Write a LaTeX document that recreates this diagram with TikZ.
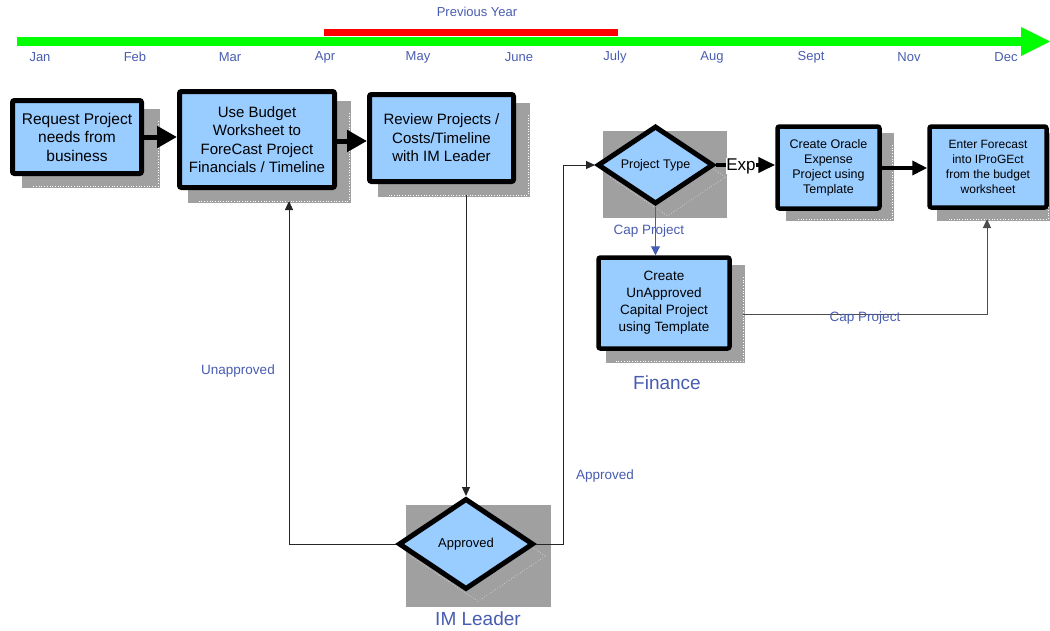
\documentclass[tikz,border=0pt]{standalone}
\usepackage{fontspec}
\setmainfont{Liberation Sans}
\usetikzlibrary{shapes.geometric,arrows.meta,calc}
\definecolor{boxblue}{RGB}{153,204,255}
\definecolor{shgray}{RGB}{160,160,160}
\definecolor{lblue}{RGB}{72,92,176}
\definecolor{tlgreen}{RGB}{0,255,0}
\definecolor{tlred}{RGB}{255,0,0}
\begin{document}
\begin{tikzpicture}[x=1pt,y=-1pt,
 shadowbox/.style={rectangle, fill=shgray, draw=shgray, line width=4pt, inner sep=0pt, outer sep=0pt},
 shdot/.style={draw=white, dotted, line width=0.7pt},
 procbox/.style={rectangle, fill=boxblue, draw=black, line width=5pt, rounded corners=2pt, inner sep=0pt, align=center},
 grayrect/.style={rectangle, fill=shgray, inner sep=0pt},
 decision/.style={diamond, fill=boxblue, draw=black, line width=5pt, inner sep=0pt},
 ghostdiamond/.style={diamond, draw=white!60!shgray, dotted, line width=0.7pt, inner sep=0pt},
 month/.style={font=\fontsize{13}{15}\selectfont, text=lblue},
 lbl/.style={font=\fontsize{13.5}{16}\selectfont, text=lblue},
 swimlbl/.style={font=\fontsize{19}{22}\selectfont, text=lblue},
 thickarrow/.style={line width=5pt, -{Triangle[length=20pt,width=21pt]}},
 thinarrow/.style={line width=1pt, draw=black!85, -{Triangle[length=9pt,width=8pt]}},
]
\useasboundingbox (0,0) rectangle (1050,630);

% timeline
\fill[tlgreen] (17,37) rectangle (1022,46);
\fill[tlgreen] (1021,27) -- (1050,41.5) -- (1021,56) -- cycle;
\fill[tlred] (324,29) rectangle (618,36);
\node[month] (prev) at (477,12) {Previous Year};
\node[month] (m1) at (40,57) {Jan};
\node[month] (m2) at (135,57) {Feb};
\node[month] (m3) at (230,57) {Mar};
\node[month] (m4) at (325,57) {Apr};
\node[month] (m5) at (418,57) {May};
\node[month] (m6) at (519,57) {June};
\node[month] (m7) at (615,57) {July};
\node[month] (m8) at (712,57) {Aug};
\node[month] (m9) at (811,57) {Sept};
\node[month] (m10) at (909,57) {Nov};
\node[month] (m11) at (1006,57) {Dec};

% shadows
\node[shadowbox, minimum width=134pt, minimum height=75pt] (s1) at (91,148.5) {};
\node[shadowbox, minimum width=159pt, minimum height=98pt] (s2) at (269.5,152) {};
\node[shadowbox, minimum width=148pt, minimum height=90pt] (s3) at (454,150) {};
\node[shadowbox, minimum width=104pt, minimum height=84pt] (so) at (840,177) {};
\node[shadowbox, minimum width=109pt, minimum height=84pt] (sf) at (993.5,177) {};
\node[shadowbox, minimum width=135pt, minimum height=94pt] (su) at (675.5,314) {};
\foreach \s in {s1,s2,s3,so,sf,su}
  \draw[shdot] ([yshift=-10pt]\s.north east) -- (\s.south east) -- ([xshift=8pt]\s.south west);
\node[grayrect, minimum width=124pt, minimum height=87pt] (spt) at (665,174.5) {};
\node[grayrect, minimum width=145pt, minimum height=102pt] (sa) at (478.5,556) {};
\node[ghostdiamond, minimum width=116pt, minimum height=78pt] (gpt) at (667.5,177) {};
\node[ghostdiamond, minimum width=135pt, minimum height=91pt] (ga) at (478,556) {};

% process boxes
\node[procbox, minimum width=129pt, minimum height=73pt, font=\fontsize{15.5}{18.5}\selectfont] (b1) at (77,137) {Request Project\\needs from\\business};
\node[procbox, minimum width=155pt, minimum height=96pt, font=\fontsize{15}{18.5}\selectfont] (b2) at (257,139.5) {Use Budget\\Worksheet to\\ForeCast Project\\Financials / Timeline};
\node[procbox, minimum width=144pt, minimum height=87pt, font=\fontsize{15}{18.5}\selectfont] (b3) at (441.5,138) {Review Projects /\\Costs/Timeline\\with IM Leader};
\node[procbox, line width=4.5pt, minimum width=102pt, minimum height=82pt, font=\fontsize{12.5}{15}\selectfont] (bo) at (828.5,167.5) {Create Oracle\\Expense\\Project using\\Template};
\node[procbox, line width=4.5pt, minimum width=117pt, minimum height=81pt, font=\fontsize{12}{15}\selectfont] (bf) at (988,167) {Enter Forecast\\into IProGEct\\from the budget\\worksheet};
\node[procbox, line width=4.5pt, minimum width=131pt, minimum height=91pt, font=\fontsize{13.5}{17}\selectfont] (bu) at (664,303) {Create\\UnApproved\\Capital Project\\using Template};

% decisions
\node[decision, minimum width=116pt, minimum height=78pt] (pt) at (655.5,165) {};
\node[font=\fontsize{12.5}{15}\selectfont] (ptt) at (pt) {Project Type};
\node[decision, minimum width=135pt, minimum height=91pt] (ap) at (466,544) {};
\node[font=\fontsize{13}{15}\selectfont] (apt) at (ap) {Approved};

% swimlane labels
\node[swimlbl] (fin) at (667,383) {Finance};
\node[swimlbl] (iml) at (478,619) {IM Leader};

% connectors
\draw[thickarrow] (b1.east) -- (b1.east -| b2.west);
\draw[thickarrow] (b2.east |- 0,141) -- (b3.west |- 0,141);
\draw[line width=4pt, -{Triangle[length=17pt,width=15pt]}] (pt.east) -- (pt.east -| bo.west);
\node[font=\fontsize{17}{20}\selectfont, fill=white, inner sep=0.3pt] (exp) at (741,166) {Exp};
\draw[line width=4pt, -{Triangle[length=15pt,width=14pt]}] (bo.east |- 0,168) -- (bf.west |- 0,168);

\draw[thinarrow] (ap.north |- s3.south) -- (ap.north);
\coordinate (ul) at (289,0);
\draw[thinarrow] (ap.west) -- (ap.west -| ul) -- (ul |- s2.south);
\node[lbl] (unap) at (238,371) {Unapproved};
\coordinate (ar) at (563,0);
\draw[thinarrow] (ap.east) -- (ap.east -| ar) -- (ar |- pt.west) -- (pt.west);
\node[lbl] (appr) at (605,476) {Approved};

\draw[line width=1pt, draw=lblue, -{Triangle[length=9pt,width=9pt]}] (pt.south) -- (pt.south |- bu.north);
\node[lbl] (cap1) at (649,231) {Cap Project};

\coordinate (cr) at (987,0);
\draw[thinarrow, draw=black!70] (su.east) -- (su.east -| cr) -- (cr |- sf.south);
\node[lbl] (cap2) at (865,318) {Cap Project};
\end{tikzpicture}
\end{document}
